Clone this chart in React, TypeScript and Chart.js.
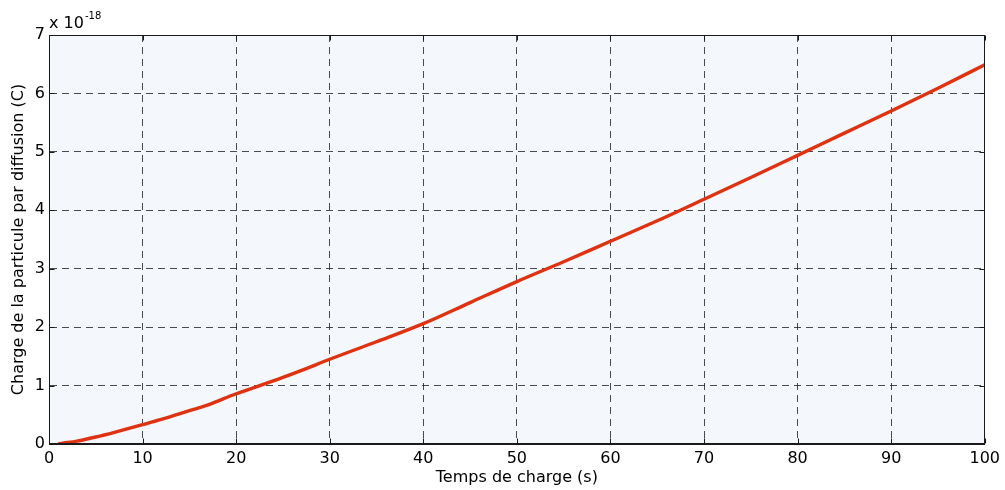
import { useEffect, useRef } from "react";
import { Chart, registerables } from "chart.js";

Chart.register(...registerables);

// Charging time (s)
const chargeTime = [1, 2, 3, 5, 7, 10, 12, 15, 17, 20, 22, 25, 27, 30, 35, 40, 45, 50, 55, 60, 65, 70, 75, 80, 85, 90, 95, 100];
// Particle charge by diffusion, in units of 1e-18 C
const chargeE18 = [0.005, 0.025, 0.05, 0.12, 0.2, 0.33, 0.42, 0.57, 0.67, 0.86, 0.97, 1.14, 1.26, 1.45, 1.75, 2.06, 2.42, 2.78, 3.12, 3.47, 3.82, 4.19, 4.56, 4.94, 5.32, 5.70, 6.09, 6.49];

const xTicks = [0, 10, 20, 30, 40, 50, 60, 70, 80, 90, 100];
const yTicks = [0, 1, 2, 3, 4, 5, 6, 7];
const exponentBase = "x 10";
const exponentPower = "-18";

const xTitle = "Temps de charge (s)";
const yTitle = "Charge de la particule par diffusion (C)";

const FONT = "'DejaVu Sans', sans-serif";
const PLOT_BG = "#F4F7FC";
const LINE_COLOR = "#DE3210";
const GRID_COLOR = "rgba(30,30,30,0.8)";

export default function App() {
  const ref = useRef<HTMLCanvasElement>(null);

  useEffect(() => {
    if (!ref.current) return;

    const axesFrame = {
      id: "axesFrame",
      beforeDraw(chart: any) {
        const { ctx, chartArea: a } = chart;
        ctx.save();
        ctx.fillStyle = PLOT_BG;
        ctx.fillRect(a.left, a.top, a.right - a.left, a.bottom - a.top);
        ctx.restore();
      },
      afterDraw(chart: any) {
        const { ctx, chartArea: a, scales } = chart;
        const L = Math.round(a.left) + 0.5;
        const R = Math.round(a.right) - 0.5;
        const T = Math.round(a.top) + 0.5;
        const B = Math.round(a.bottom) - 0.5;
        ctx.save();
        ctx.strokeStyle = "#1a1a1a";
        ctx.lineWidth = 1;
        ctx.setLineDash([]);
        ctx.strokeRect(L, T, R - L, B - T);
        const tl = 5;
        ctx.beginPath();
        for (const v of xTicks) {
          const x = Math.round(scales.x.getPixelForValue(v)) + 0.5;
          ctx.moveTo(x, B);
          ctx.lineTo(x, B - tl);
          ctx.moveTo(x, T);
          ctx.lineTo(x, T + tl);
        }
        for (const v of yTicks) {
          const y = Math.round(scales.y.getPixelForValue(v)) + 0.5;
          ctx.moveTo(L, y);
          ctx.lineTo(L + tl, y);
          ctx.moveTo(R, y);
          ctx.lineTo(R - tl, y);
        }
        ctx.stroke();

        // axis multiplier
        ctx.fillStyle = "#000";
        ctx.textBaseline = "alphabetic";
        ctx.textAlign = "left";
        ctx.font = `16px ${FONT}`;
        ctx.fillText(exponentBase, a.left, 28);
        const w = ctx.measureText(exponentBase).width;
        ctx.font = `10px ${FONT}`;
        ctx.fillText(exponentPower, a.left + w + 1, 19);
        ctx.restore();
      },
    };

    const chart = new Chart(ref.current, {
      type: "line",
      data: {
        datasets: [
          {
            data: chargeTime.map((t, i) => ({ x: t, y: chargeE18[i] })),
            borderColor: LINE_COLOR,
            borderWidth: 3.4,
            pointRadius: 0,
            cubicInterpolationMode: "monotone",
            fill: false,
          },
        ],
      },
      options: {
        responsive: false,
        animation: false,
        events: [],
        layout: { padding: { left: 0, right: 18, top: 35, bottom: 0 } },
        plugins: { legend: { display: false }, tooltip: { enabled: false } },
        scales: {
          x: {
            type: "linear",
            min: 0,
            max: 100,
            afterBuildTicks: (s: any) => {
              s.ticks = xTicks.map((v) => ({ value: v }));
            },
            afterFit: (s: any) => {
              s.height = 46;
            },
            ticks: {
              color: "#000",
              font: { family: FONT, size: 16 },
              padding: 5,
              maxRotation: 0,
              autoSkip: false,
            },
            grid: { color: GRID_COLOR, lineWidth: 1, drawTicks: false },
            border: { display: true, color: "#1a1a1a", dash: [7, 5] },
            title: {
              display: true,
              text: xTitle,
              color: "#000",
              font: { family: FONT, size: 16 },
              padding: { top: 0, bottom: 3 },
            },
          },
          y: {
            type: "linear",
            min: 0,
            max: 7,
            afterBuildTicks: (s: any) => {
              s.ticks = yTicks.map((v) => ({ value: v }));
            },
            afterFit: (s: any) => {
              s.width = 49;
            },
            ticks: {
              color: "#000",
              font: { family: FONT, size: 16 },
              padding: 4,
              autoSkip: false,
            },
            grid: { color: GRID_COLOR, lineWidth: 1, drawTicks: false },
            border: { display: true, color: "#1a1a1a", dash: [7, 5] },
            title: {
              display: true,
              text: yTitle,
              color: "#000",
              font: { family: FONT, size: 16 },
              padding: { top: 9, bottom: 0 },
            },
          },
        },
      },
      plugins: [axesFrame],
    } as any);

    return () => chart.destroy();
  }, []);

  return (
    <div style={{ position: "absolute", left: 0, top: 0, width: 1005, height: 490, background: "#fff" }}>
      <canvas ref={ref} width={1005} height={490} style={{ display: "block" }} />
    </div>
  );
}
